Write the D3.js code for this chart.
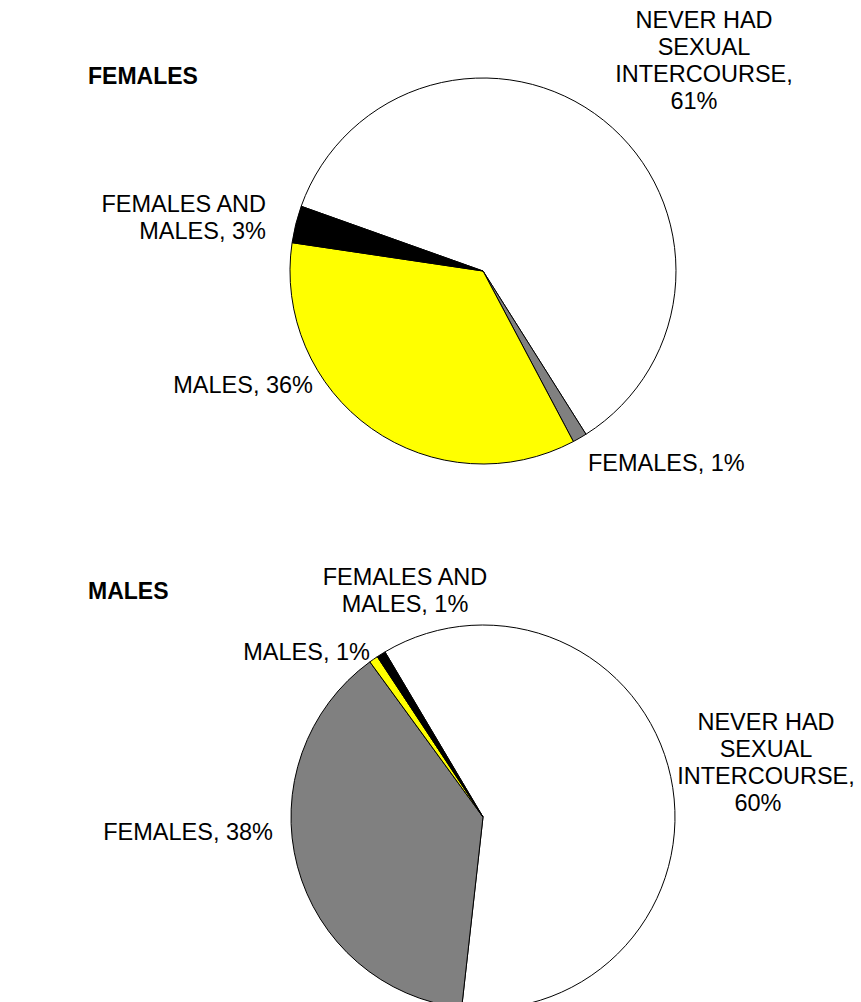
<!DOCTYPE html>
<html>
<head>
<meta charset="utf-8">
<script src="https://cdn.jsdelivr.net/npm/d3@7"></script>
<style>
  html, body { margin: 0; padding: 0; background: #fff; overflow: hidden; }
  svg { display: block; }
</style>
</head>
<body>
<div id="chart"></div>
<script>
(function() {
  'use strict';

  // slice order (clockwise from start angle)
  var categories = ['NEVER HAD SEXUAL INTERCOURSE', 'FEMALES', 'MALES', 'FEMALES AND MALES'];
  var colors = ['#ffffff', '#808080', '#ffff00', '#000000'];

  // estimated shares, percent
  var femaleValues = [60.6, 1.2, 35.1, 3.1];
  var maleValues = [60.3, 38.2, 0.75, 0.75];

  // labels as printed
  var femaleLabels = [
    ['NEVER HAD', 'SEXUAL', 'INTERCOURSE,', '61%'],
    ['FEMALES, 1%'],
    ['MALES, 36%'],
    ['FEMALES AND', 'MALES, 3%']
  ];
  var maleLabels = [
    ['NEVER HAD', 'SEXUAL', 'INTERCOURSE,', '60%'],
    ['FEMALES, 38%'],
    ['MALES, 1%'],
    ['FEMALES AND', 'MALES, 1%']
  ];

  var width = 861, height = 1002;
  var font = 'Liberation Sans, Arial, sans-serif';

  var svg = d3.select('#chart')
    .append('svg')
    .attr('width', width)
    .attr('height', height);

  function drawPie(opts) {
    var g = svg.append('g')
      .attr('transform', 'translate(' + opts.cx + ',' + opts.cy + ')');

    var pie = d3.pie()
      .sort(null)
      .startAngle(opts.start * Math.PI / 180)
      .endAngle(opts.start * Math.PI / 180 + 2 * Math.PI);

    var arc = d3.arc().innerRadius(0).outerRadius(opts.r);

    g.selectAll('path')
      .data(pie(opts.values))
      .enter()
      .append('path')
      .attr('d', arc)
      .attr('fill', function(d, i) { return colors[i]; })
      .attr('stroke', '#000')
      .attr('stroke-width', 1)
      .attr('stroke-linejoin', 'round');

    // title
    svg.append('text')
      .attr('x', 88)
      .attr('y', opts.titleY)
      .style('font-family', font)
      .style('font-weight', 'bold')
      .style('font-size', '23px')
      .text(opts.title);

    // labels
    opts.labels.forEach(function(lines, i) {
      var p = opts.labelPos[i];
      var t = svg.append('text')
        .attr('x', p.x)
        .attr('y', p.y)
        .attr('text-anchor', p.anchor)
        .style('font-family', font)
        .style('font-size', '23.5px')
        .attr('fill', '#000');
      lines.forEach(function(line, j) {
        t.append('tspan')
          .attr('x', p.x + (p.dx && j === lines.length - 1 ? p.dx : 0))
          .attr('dy', j === 0 ? 0 : 27)
          .text(line);
      });
    });
  }

  drawPie({
    title: 'FEMALES',
    titleY: 84,
    cx: 483, cy: 271, r: 193,
    start: -70.4,
    values: femaleValues,
    labels: femaleLabels,
    labelPos: [
      {x: 704, y: 28, anchor: 'middle', dx: -10},
      {x: 588, y: 471, anchor: 'start'},
      {x: 313, y: 393, anchor: 'end'},
      {x: 266, y: 212, anchor: 'end'}
    ]
  });

  drawPie({
    title: 'MALES',
    titleY: 599,
    cx: 483, cy: 817, r: 192,
    start: -30.7,
    values: maleValues,
    labels: maleLabels,
    labelPos: [
      {x: 766, y: 730, anchor: 'middle', dx: -8},
      {x: 273, y: 840, anchor: 'end'},
      {x: 370, y: 660, anchor: 'end'},
      {x: 405, y: 585, anchor: 'middle'}
    ]
  });
})();
</script>
</body>
</html>
